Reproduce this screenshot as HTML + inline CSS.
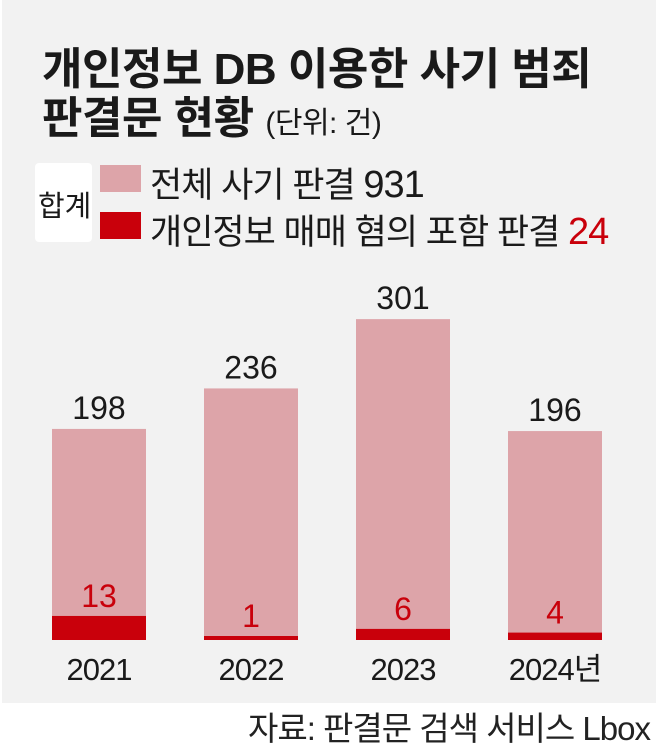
<!DOCTYPE html>
<html><head><meta charset="utf-8"><style>
body{margin:0;width:658px;height:745px;background:#fff;font-family:"Liberation Sans","Noto Sans CJK KR",sans-serif;overflow:hidden}
#panel{position:absolute;left:2px;top:0;width:654px;height:703px;background:#f2f2f2}
.t{position:absolute;white-space:nowrap;color:#1a1a1a}
</style></head><body>
<div id="panel"></div>
<div class="t" style="left:42px;top:33px;font-size:44px;font-weight:bold;letter-spacing:-0.5px">개인정보 DB 이용한 사기 범죄</div>
<div class="t" style="left:42px;top:82px;font-size:44px;font-weight:bold;letter-spacing:-0.5px">판결문 현황 <span style="font-size:30px;font-weight:normal">(단위: 건)</span></div>
<div style="position:absolute;left:35px;top:163px;width:57px;height:79px;background:#fff;border-radius:4px"></div>
<div class="t" style="left:38px;top:183px;font-size:29px">합계</div>
<div style="position:absolute;left:100px;top:165px;width:41px;height:27px;background:#dda4a9"></div>
<div style="position:absolute;left:100px;top:212px;width:41px;height:27px;background:#c9000b"></div>
<div class="t" style="left:150px;top:157px;font-size:35px;letter-spacing:-1px">전체 사기 판결 <span style="font-size:38px">931</span></div>
<div class="t" style="left:150px;top:204px;font-size:35px;letter-spacing:-1px">개인정보 매매 혐의 포함 판결 <span style="font-size:38px;color:#c9000b">24</span></div>
<svg id="chart" width="658" height="745" style="position:absolute;left:0;top:0"></svg>
<div class="t" style="right:8px;top:702px;font-size:33px;letter-spacing:-1px;color:#222">자료: 판결문 검색 서비스 Lbox</div>
<script>
const years=["2021","2022","2023","2024년"];
const totalCases=[198,236,301,196];
const personalCases=[13,1,6,4];
const svg=document.getElementById('chart');
const NS='http://www.w3.org/2000/svg';
const base=640, barW=94, x0=52, step=152;
const yTotal=v=>v*1.066;
const yPers=v=>Math.max(4,v*1.85);
function mk(tag,attrs){const e=document.createElementNS(NS,tag);for(const k in attrs)e.setAttribute(k,attrs[k]);svg.appendChild(e);return e;}
years.forEach((yr,i)=>{
  const x=x0+i*step, cx=x+barW/2;
  const h=yTotal(totalCases[i]);
  const b=mk('rect',{x:x,y:base-h,width:barW,height:h,fill:'#dda4a9'});
  
  
  const hp=yPers(personalCases[i]);
  const r=mk('rect',{x:x,y:base-hp,width:barW,height:hp,fill:'#c9000b'});
  
  
  const t=mk('text',{x:cx,y:base-h-10,'text-anchor':'middle','font-size':32,fill:'#1a1a1a','font-family':'Liberation Sans, sans-serif'});
  t.textContent=totalCases[i];
  
  
  const p=mk('text',{x:cx,y:base-hp-9,'text-anchor':'middle','font-size':32,fill:'#c9000b','font-family':'Liberation Sans, sans-serif'});
  p.textContent=personalCases[i];
  
  
  const l=mk('text',{x:cx,y:680,'text-anchor':'middle','font-size':31,fill:'#1a1a1a','font-family':'Liberation Sans, Noto Sans CJK KR, sans-serif','letter-spacing':'-1'});
  l.textContent=yr;
  
  
});
</script>
</body></html>
